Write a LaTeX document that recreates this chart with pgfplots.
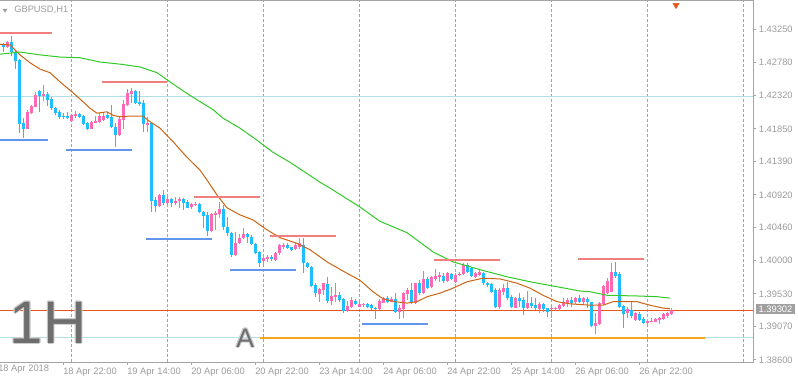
\documentclass[border=0pt]{standalone}
\usepackage{pgfplots}
\pgfplotsset{compat=1.18}
\usepackage{pgfplotstable}
\usepackage{fontspec}
\setmainfont{Liberation Sans}
\definecolor{bull}{RGB}{255,105,180}
\definecolor{bear}{RGB}{30,190,255}
\definecolor{maf}{RGB}{205,100,20}
\definecolor{mas}{RGB}{50,200,40}
\definecolor{res}{RGB}{240,128,128}
\definecolor{sup}{RGB}{100,149,237}
\definecolor{cyanl}{RGB}{176,224,230}
\definecolor{orl}{RGB}{245,165,30}
\definecolor{pricel}{RGB}{232,85,25}
\definecolor{gridc}{RGB}{165,165,165}
\definecolor{labc}{RGB}{155,155,155}
\definecolor{bigtext}{RGB}{110,110,110}
\definecolor{halo}{RGB}{205,205,205}
\pgfplotstableread{
i o h l c d
0 1.4303 1.4306 1.4293 1.4300 0
1 1.4300 1.4309 1.4299 1.4307 1
2 1.4307 1.4316 1.4287 1.4293 0
3 1.4293 1.4296 1.4269 1.4280 0
4 1.4282 1.4283 1.4179 1.4192 0
5 1.4193 1.4200 1.4172 1.4185 0
6 1.4185 1.4212 1.4185 1.4209 1
7 1.4207 1.4219 1.4206 1.4217 1
8 1.4216 1.4237 1.4216 1.4232 1
9 1.4238 1.4240 1.4209 1.4231 0
10 1.4231 1.4247 1.4224 1.4234 1
11 1.4234 1.4237 1.4217 1.4226 0
12 1.4227 1.4230 1.4212 1.4214 0
13 1.4214 1.4216 1.4204 1.4207 0
14 1.4209 1.4212 1.4199 1.4202 0
15 1.4203 1.4207 1.4199 1.4202 0
16 1.4203 1.4209 1.4199 1.4200 0
17 1.4196 1.4206 1.4195 1.4204 1
18 1.4203 1.4210 1.4200 1.4206 1
19 1.4206 1.4207 1.4200 1.4202 0
20 1.4203 1.4204 1.4190 1.4192 0
21 1.4193 1.4195 1.4183 1.4185 0
22 1.4185 1.4196 1.4185 1.4195 1
23 1.4193 1.4203 1.4193 1.4196 1
24 1.4195 1.4207 1.4193 1.4203 1
25 1.4197 1.4207 1.4196 1.4203 1
26 1.4204 1.4209 1.4199 1.4200 0
27 1.4202 1.4219 1.4186 1.4188 0
28 1.4188 1.4193 1.4159 1.4176 0
29 1.4176 1.4202 1.4175 1.4199 1
30 1.4197 1.4226 1.4185 1.4220 1
31 1.4219 1.4241 1.4217 1.4235 1
32 1.4234 1.4242 1.4221 1.4238 1
33 1.4238 1.4240 1.4220 1.4221 0
34 1.4223 1.4238 1.4217 1.4220 0
35 1.4221 1.4226 1.4181 1.4192 0
36 1.4190 1.4202 1.4181 1.4193 1
37 1.4193 1.4195 1.4068 1.4084 0
38 1.4085 1.4089 1.4068 1.4077 0
39 1.4077 1.4093 1.4075 1.4092 1
40 1.4092 1.4099 1.4078 1.4081 0
41 1.4081 1.4089 1.4075 1.4086 1
42 1.4086 1.4088 1.4075 1.4081 0
43 1.4081 1.4089 1.4078 1.4084 1
44 1.4084 1.4089 1.4074 1.4086 1
45 1.4086 1.4088 1.4071 1.4081 0
46 1.4082 1.4085 1.4074 1.4074 0
47 1.4075 1.4081 1.4072 1.4079 1
48 1.4078 1.4082 1.4077 1.4079 1
49 1.4079 1.4081 1.4067 1.4068 0
50 1.4068 1.4069 1.4046 1.4062 0
51 1.4064 1.4068 1.4034 1.4041 0
52 1.4041 1.4067 1.4040 1.4065 1
53 1.4064 1.4069 1.4043 1.4067 1
54 1.4065 1.4082 1.4060 1.4072 1
55 1.4072 1.4078 1.4043 1.4047 0
56 1.4047 1.4061 1.4034 1.4039 0
57 1.4039 1.4040 1.4005 1.4008 0
58 1.4008 1.4040 1.4006 1.4024 1
59 1.4024 1.4037 1.4023 1.4032 1
60 1.4032 1.4046 1.4030 1.4037 1
61 1.4037 1.4039 1.4024 1.4033 0
62 1.4033 1.4036 1.4022 1.4023 0
63 1.4023 1.4024 1.4009 1.4010 0
64 1.4012 1.4013 1.3991 1.3996 0
65 1.3999 1.4005 1.3991 1.4003 1
66 1.4002 1.4008 1.3998 1.4005 1
67 1.4005 1.4008 1.3999 1.4002 0
68 1.4001 1.4012 1.3999 1.4010 1
69 1.4010 1.4023 1.4008 1.4022 1
70 1.4019 1.4024 1.4016 1.4022 1
71 1.4022 1.4024 1.4016 1.4017 0
72 1.4019 1.4019 1.4013 1.4015 0
73 1.4016 1.4024 1.4015 1.4022 1
74 1.4019 1.4032 1.4016 1.4024 1
75 1.4022 1.4032 1.3982 1.3996 0
76 1.3996 1.3998 1.3989 1.3991 0
77 1.3991 1.3992 1.3963 1.3964 0
78 1.3965 1.3968 1.3949 1.3954 0
79 1.3953 1.3961 1.3942 1.3960 1
80 1.3958 1.3968 1.3951 1.3968 1
81 1.3967 1.3977 1.3940 1.3943 0
82 1.3943 1.3963 1.3937 1.3950 1
83 1.3949 1.3968 1.3942 1.3951 1
84 1.3951 1.3956 1.3942 1.3944 0
85 1.3946 1.3947 1.3926 1.3929 0
86 1.3929 1.3943 1.3927 1.3936 1
87 1.3934 1.3949 1.3933 1.3944 1
88 1.3943 1.3946 1.3937 1.3939 0
89 1.3934 1.3942 1.3934 1.3939 1
90 1.3937 1.3940 1.3934 1.3939 1
91 1.3939 1.3940 1.3933 1.3934 0
92 1.3937 1.3939 1.3930 1.3933 0
93 1.3933 1.3934 1.3918 1.3932 0
94 1.3932 1.3946 1.3930 1.3943 1
95 1.3940 1.3949 1.3940 1.3947 1
96 1.3947 1.3950 1.3940 1.3942 0
97 1.3942 1.3949 1.3942 1.3946 1
98 1.3946 1.3954 1.3926 1.3927 0
99 1.3927 1.3937 1.3918 1.3933 1
100 1.3932 1.3956 1.3919 1.3954 1
101 1.3953 1.3961 1.3944 1.3958 1
102 1.3958 1.3968 1.3939 1.3940 0
103 1.3940 1.3968 1.3939 1.3968 1
104 1.3968 1.3972 1.3951 1.3954 0
105 1.3954 1.3985 1.3953 1.3974 1
106 1.3974 1.3977 1.3960 1.3961 0
107 1.3963 1.3978 1.3961 1.3977 1
108 1.3974 1.3988 1.3971 1.3978 1
109 1.3977 1.3984 1.3970 1.3980 1
110 1.3978 1.3982 1.3968 1.3971 0
111 1.3971 1.3984 1.3970 1.3982 1
112 1.3981 1.3982 1.3972 1.3974 0
113 1.3970 1.3982 1.3968 1.3980 1
114 1.3980 1.3984 1.3978 1.3981 1
115 1.3981 1.3996 1.3980 1.3994 1
116 1.3994 1.3996 1.3982 1.3984 0
117 1.3989 1.3991 1.3977 1.3978 0
118 1.3977 1.3984 1.3975 1.3982 1
119 1.3980 1.3988 1.3978 1.3984 1
120 1.3982 1.3984 1.3965 1.3968 0
121 1.3968 1.3970 1.3963 1.3965 0
122 1.3967 1.3968 1.3954 1.3956 0
123 1.3958 1.3961 1.3933 1.3934 0
124 1.3934 1.3961 1.3932 1.3958 1
125 1.3956 1.3967 1.3951 1.3961 1
126 1.3961 1.3970 1.3944 1.3947 0
127 1.3949 1.3951 1.3933 1.3934 0
128 1.3933 1.3949 1.3933 1.3947 1
129 1.3947 1.3954 1.3934 1.3943 0
130 1.3944 1.3949 1.3923 1.3933 0
131 1.3933 1.3957 1.3932 1.3940 1
132 1.3940 1.3949 1.3933 1.3936 0
133 1.3937 1.3947 1.3930 1.3933 0
134 1.3932 1.3942 1.3926 1.3939 1
135 1.3939 1.3940 1.3927 1.3932 0
136 1.3933 1.3933 1.3920 1.3927 0
137 1.3932 1.3936 1.3919 1.3933 1
138 1.3932 1.3934 1.3929 1.3933 1
139 1.3932 1.3939 1.3929 1.3937 1
140 1.3936 1.3947 1.3934 1.3942 1
141 1.3940 1.3947 1.3934 1.3944 1
142 1.3944 1.3949 1.3934 1.3940 0
143 1.3942 1.3949 1.3939 1.3947 1
144 1.3947 1.3951 1.3940 1.3942 0
145 1.3942 1.3949 1.3937 1.3947 1
146 1.3946 1.3949 1.3933 1.3942 0
147 1.3942 1.3942 1.3906 1.3908 0
148 1.3908 1.3926 1.3897 1.3912 1
149 1.3911 1.3942 1.3909 1.3940 1
150 1.3939 1.3965 1.3937 1.3964 1
151 1.3954 1.3975 1.3953 1.3971 1
152 1.3956 1.3996 1.3956 1.3984 1
153 1.3984 1.3998 1.3975 1.3978 0
154 1.3981 1.3984 1.3933 1.3934 0
155 1.3936 1.3937 1.3905 1.3925 0
156 1.3926 1.3934 1.3919 1.3932 1
157 1.3930 1.3942 1.3919 1.3922 0
158 1.3916 1.3927 1.3915 1.3926 1
159 1.3925 1.3927 1.3915 1.3916 0
160 1.3918 1.3920 1.3911 1.3912 0
161 1.3912 1.3916 1.3911 1.3915 1
162 1.3913 1.3919 1.3913 1.3915 1
163 1.3913 1.3919 1.3913 1.3918 1
164 1.3916 1.3920 1.3911 1.3919 1
165 1.3918 1.3926 1.3916 1.3925 1
166 1.3922 1.3927 1.3919 1.3926 1
167 1.3925 1.3933 1.3923 1.39302 1
}\candles
\begin{document}
\begin{tikzpicture}
\useasboundingbox (0,-15.75pt) rectangle (598.5pt,271.5pt);
\begin{axis}[
  at={(0,0)}, anchor=south west,
  scale only axis, width=564.75pt, height=270.75pt,
  xmin=-0.75, xmax=187.5, ymin=1.385716, ymax=1.436479,
  clip mode=individual,
  axis line style={draw=none},
  tick align=outside,
  major tick length=2.25pt,
  every tick/.style={draw=gridc, line width=0.75pt},
  xtick pos=lower, ytick pos=upper,
  xticklabel pos=lower, yticklabel pos=upper,
  xtick={15,31,47,63,79,95,111,127,143,159},
  xticklabels={18 Apr 22:00,19 Apr 14:00,20 Apr 06:00,20 Apr 22:00,23 Apr 14:00,24 Apr 06:00,24 Apr 22:00,25 Apr 14:00,26 Apr 06:00,26 Apr 22:00},
  extra x ticks={-0.75},
  extra x tick labels={18 Apr 2018},
  extra x tick style={major tick length=0pt, xticklabel style={xshift=-1.5pt}},
  xticklabel style={anchor=north west, inner sep=0pt, yshift=-2pt, font=\fontsize{7pt}{8pt}\selectfont, text=labc},
  ytick={1.386,1.3907,1.3953,1.4,1.4046,1.4092,1.4139,1.4185,1.4232,1.4278,1.4325},
  yticklabels={1.38600,1.39070,1.39530,1.40000,1.40460,1.40920,1.41390,1.41850,1.42320,1.42780,1.43250},
  yticklabel style={anchor=west, inner sep=0pt, xshift=2pt, font=\fontsize{7pt}{8pt}\selectfont, text=labc},
  colormap={cndl}{color=(bear) color=(bear) color=(bull) color=(bull)},
  point meta min=0, point meta max=1,
]
\pgfplotsinvokeforeach{17,41,65,89,113,137,161,185}{
  \draw[gridc, line width=0.75pt, dash pattern=on 2.25pt off 1.5pt] (axis cs:#1,1.38572) -- (axis cs:#1,1.43648);
}
\addplot[cyanl, line width=0.75pt] coordinates {(-0.75,1.4231) (187.5,1.4231)};
\addplot[cyanl, line width=0.75pt] coordinates {(-0.75,1.3892) (187.5,1.3892)};
\addplot[orl, line width=1.5pt] coordinates {(64.25,1.3891) (175.5,1.3891)};
\addplot[pricel, line width=0.75pt] coordinates {(-0.75,1.39302) (187.5,1.39302)};
% wicks
\addplot[mark=none, point meta=\thisrow{d},
  quiver={u=0, v=\thisrow{h}-\thisrow{l},
    every arrow/.append style={line width=0.75pt, draw=mapped color}}]
  table[x=i, y=l] {\candles};
% bodies
\addplot[mark=none, point meta=\thisrow{d},
  quiver={u=0, v={max(abs(\thisrow{c}-\thisrow{o}),0.00012)},
    every arrow/.append style={line width=2.25pt, draw=mapped color}}]
  table[x=i, y expr={min(\thisrow{o},\thisrow{c})}] {\candles};
% moving averages
\addplot[maf, line width=0.75pt] coordinates {
(-0.75,1.4304) (1.75,1.4303) (3,1.4296) (4.25,1.4289) (6.75,1.4278) (9.25,1.4269) (11.75,1.4264)
(14.25,1.4251) (17.25,1.4237) (19.25,1.4227) (21.75,1.4214) (23.5,1.4207) (26,1.4209) (27.5,1.4204)
(29.25,1.4202) (31.75,1.4203) (35,1.4203) (36.25,1.4197) (39.25,1.4186) (42.5,1.4167) (46,1.4145)
(49.25,1.4127) (51,1.4113) (53.5,1.4092) (56,1.4074) (59.25,1.4064) (62.5,1.4057) (66,1.4043)
(69.25,1.4032) (73.5,1.4024) (76.75,1.4015) (79.25,1.4005) (81,1.3998) (85,1.3985) (89.25,1.3972)
(92.5,1.3956) (95,1.3946) (98,1.3942) (101,1.3940) (103.5,1.3942) (106,1.3949) (109.25,1.3954)
(112.5,1.3961) (116,1.3970) (120,1.3975) (124.25,1.3974) (128.5,1.3968) (131.75,1.3961) (135,1.3951)
(138.5,1.3942) (141.75,1.3939) (146.75,1.3937) (150,1.3937) (152.5,1.3942) (158.5,1.3942)
(161.75,1.3937) (165,1.3933) (166.75,1.3932)};
\addplot[mas, line width=0.75pt] coordinates {
(-0.75,1.4290) (4.25,1.4293) (9.25,1.4289) (14.25,1.4286) (19.25,1.4285) (24.25,1.4279) (29.25,1.4276)
(34.25,1.4272) (38.5,1.4264) (41.75,1.4251) (46.75,1.4232) (52.5,1.4212) (55,1.4200) (59.25,1.4186)
(63.5,1.4169) (67.5,1.4152) (71.75,1.4138) (79.25,1.4110) (82.5,1.4099) (89.25,1.4075) (94.25,1.4055)
(101,1.4039) (107.5,1.4012) (112.5,1.3998) (119.25,1.3987) (126,1.3977) (131.75,1.3970) (138.5,1.3963)
(144.25,1.3957) (146.75,1.3956) (151,1.3951) (158.5,1.3950) (163.5,1.3949) (166.75,1.3947)};
% resistance levels
\addplot[res, line width=1.5pt] coordinates {(-0.75,1.4320) (12.25,1.4320)};
\addplot[res, line width=1.5pt] coordinates {(24.75,1.4251) (41,1.4251)};
\addplot[res, line width=1.5pt] coordinates {(47.75,1.4089) (64.25,1.4089)};
\addplot[res, line width=1.5pt] coordinates {(66.75,1.4034) (83.25,1.4034)};
\addplot[res, line width=1.5pt] coordinates {(107.75,1.4001) (124.25,1.4001)};
\addplot[res, line width=1.5pt] coordinates {(143.75,1.4002) (160.25,1.4002)};
% support levels
\addplot[sup, line width=1.5pt] coordinates {(-0.75,1.4170) (11.25,1.4170)};
\addplot[sup, line width=1.5pt] coordinates {(15.75,1.4155) (32.25,1.4155)};
\addplot[sup, line width=1.5pt] coordinates {(35.75,1.4030) (52.25,1.4030)};
\addplot[sup, line width=1.5pt] coordinates {(56.75,1.3986) (73.25,1.3986)};
\addplot[sup, line width=1.5pt] coordinates {(89.75,1.3911) (106.25,1.3911)};
% arrow marker
\addplot[only marks, mark=triangle*, mark size=2.6pt, mark options={rotate=180, fill=pricel, draw=pricel}] coordinates {(168.25,1.4359)};
\end{axis}
% frame
\draw[gridc, line width=0.75pt] (0,270.75pt) -- (564.75pt,270.75pt) -- (564.75pt,0) -- (0,0);
% header
\fill[labc] (2.0pt,264.75pt) -- (5.5pt,264.75pt) -- (3.75pt,262.1pt) -- cycle;
\node[anchor=base west, inner sep=0pt, text=labc, font=\fontsize{7pt}{8pt}\selectfont] at (10.5pt,262pt) {GBPUSD,H1};
% big labels with light halo
\foreach \dx/\dy in {-0.75/0,0.75/0,0/-0.75,0/0.75,-0.6/-0.6,0.6/0.6,-0.6/0.6,0.6/-0.6}{
  \node[anchor=base west, inner sep=0pt, text=halo, font=\fontsize{45pt}{45pt}\selectfont] at (7.1pt+\dx pt,14.25pt+\dy pt) {1H};
  \node[anchor=base west, inner sep=0pt, text=halo, font=\fontsize{20pt}{20pt}\selectfont] at (177pt+\dx pt,11.25pt+\dy pt) {A};
}
\node[anchor=base west, inner sep=0pt, text=bigtext, font=\fontsize{45pt}{45pt}\selectfont] at (7.1pt,14.25pt) {1H};
\node[anchor=base west, inner sep=0pt, text=bigtext, font=\fontsize{20pt}{20pt}\selectfont] at (177pt,11.25pt) {A};
% price box
\node[fill={rgb,255:red,160;green,160;blue,160}, text=white, inner sep=0pt, minimum width=29.7pt, minimum height=7.5pt, font=\fontsize{7pt}{8pt}\selectfont] at (581.6pt,39.5pt) {1.39302};
\end{tikzpicture}
\end{document}
